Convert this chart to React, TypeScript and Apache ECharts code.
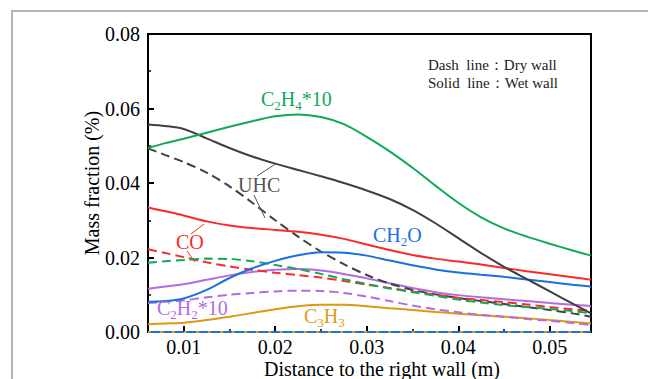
import React, { useEffect, useRef } from "react";
import * as echarts from "echarts";

const xs = [0.0061, 0.008, 0.01, 0.0125, 0.015, 0.0175, 0.02, 0.0225, 0.025, 0.0275, 0.03, 0.0325, 0.035, 0.0375, 0.04, 0.0425, 0.045, 0.0475, 0.05, 0.0525, 0.0545];

const c2h4Wet = [0.0494, 0.0507, 0.0519, 0.0535, 0.0551, 0.0566, 0.0579, 0.0584, 0.0577, 0.0558, 0.0524, 0.0485, 0.0441, 0.0393, 0.0347, 0.0308, 0.0278, 0.0256, 0.0237, 0.0219, 0.0205];
const uhcWet = [0.0557, 0.0553, 0.0545, 0.052, 0.0494, 0.0471, 0.0452, 0.0435, 0.0418, 0.04, 0.038, 0.0357, 0.0328, 0.0292, 0.0252, 0.0212, 0.0175, 0.0142, 0.0109, 0.0076, 0.005];
const uhcDry = [0.0493, 0.0475, 0.0456, 0.0428, 0.0391, 0.0347, 0.03, 0.0256, 0.0216, 0.0182, 0.0153, 0.013, 0.0113, 0.0101, 0.0091, 0.0083, 0.0075, 0.0067, 0.0059, 0.005, 0.0041];
const coWet = [0.0334, 0.0324, 0.0313, 0.0297, 0.0286, 0.0279, 0.0274, 0.0269, 0.0261, 0.025, 0.0235, 0.022, 0.0207, 0.0197, 0.0189, 0.0181, 0.0172, 0.0163, 0.0155, 0.0147, 0.014];
const coDry = [0.0222, 0.0212, 0.0201, 0.0187, 0.0176, 0.0167, 0.0159, 0.0153, 0.0146, 0.0137, 0.0127, 0.0118, 0.0109, 0.01, 0.0092, 0.0086, 0.008, 0.0074, 0.0067, 0.0061, 0.0057];
const ch2oWet = [0.0081, 0.0083, 0.009, 0.0113, 0.0145, 0.0171, 0.0191, 0.0206, 0.0214, 0.0213, 0.0205, 0.0192, 0.0179, 0.0168, 0.016, 0.0154, 0.0148, 0.0141, 0.0134, 0.0127, 0.0122];
const ch2oDry = [0, 0, 0, 0, 0, 0, 0, 0, 0, 0, 0, 0, 0, 0, 0, 0, 0, 0, 0, 0, 0];
const c2h2Wet = [0.0116, 0.0122, 0.0128, 0.014, 0.0152, 0.0161, 0.0167, 0.0169, 0.0165, 0.0156, 0.0144, 0.0131, 0.0118, 0.0107, 0.0099, 0.0093, 0.0088, 0.0083, 0.0078, 0.0073, 0.007];
const c2h2Dry = [0.0078, 0.0081, 0.0085, 0.0093, 0.01, 0.0105, 0.0109, 0.0111, 0.011, 0.0105, 0.0095, 0.0083, 0.0071, 0.0061, 0.0053, 0.0046, 0.0041, 0.0035, 0.003, 0.0024, 0.0019];
const c2h4Dry = [0.0186, 0.019, 0.0193, 0.0197, 0.0196, 0.019, 0.018, 0.0169, 0.0156, 0.0142, 0.0129, 0.0117, 0.0107, 0.0097, 0.0087, 0.0079, 0.0072, 0.0067, 0.0062, 0.0056, 0.005];
const c3h3Wet = [0.0021, 0.0023, 0.0025, 0.0032, 0.0041, 0.0051, 0.0061, 0.0069, 0.0073, 0.0073, 0.0069, 0.0064, 0.0059, 0.0054, 0.0049, 0.0045, 0.0041, 0.0037, 0.0032, 0.0027, 0.0023];
const c3h3Dry = [0, 0, 0, 0, 0, 0, 0, 0, 0, 0, 0, 0, 0, 0, 0, 0, 0, 0, 0, 0, 0];

const xMajorTicks = [0.01, 0.02, 0.03, 0.04, 0.05];
const xMinorTicks = [0.015, 0.025, 0.035, 0.045];

const SERIF = "Liberation Serif";
const GREEN = "#12a85a";
const GREY = "#404040";
const RED = "#fa2a2a";
const BLUE = "#1b6fe3";
const PURPLE = "#b46be2";
const ORANGE = "#dc9a12";

function mk(name: string, data: number[], color: string, dashed: boolean, dash?: number[]) {
  return {
    name,
    type: "line",
    data: xs.map((x, i) => [x, data[i]]),
    smooth: 0.3,
    showSymbol: false,
    symbol: "none",
    lineStyle: { color, width: 2, type: dashed ? dash || [9, 5] : "solid" },
  };
}

function label(x: number, y: number, parts: [string, boolean][], color: string) {
  const text = parts.map(([t, s]) => (s ? `{s|${t}}` : `{m|${t}}`)).join("");
  return {
    type: "text",
    x,
    y,
    z: 100,
    style: {
      text,
      textAlign: "left",
      textVerticalAlign: "middle",
      fill: color,
      font: `20px "${SERIF}"`,
      fontSize: 20,
      fontFamily: SERIF,
      rich: {
        m: { font: `20px "${SERIF}"`, fontSize: 20, fontFamily: SERIF, fill: color, lineHeight: 26 },
        s: { font: `13px "${SERIF}"`, fontSize: 13, fontFamily: SERIF, fill: color, verticalAlign: "bottom" },
      },
    },
  };
}

function lead(x1: number, y1: number, x2: number, y2: number, color: string) {
  return {
    type: "line",
    z: 100,
    shape: { x1, y1, x2, y2 },
    style: { stroke: color, lineWidth: 1 },
  };
}

export default function App() {
  const ref = useRef<HTMLDivElement>(null);
  useEffect(() => {
    const chart = echarts.init(ref.current!, null, { renderer: "svg" });
    const option: any = {
      animation: false,
      backgroundColor: "#fff",
      textStyle: { fontFamily: SERIF },
      grid: {
        left: 148,
        right: 57,
        top: 34,
        bottom: 47,
        show: true,
        borderColor: "#000",
        borderWidth: 2,
        backgroundColor: "transparent",
      },
      xAxis: [
        {
          type: "value",
          min: 0.0061,
          max: 0.0545,
          axisLine: { show: true, lineStyle: { color: "#000", width: 2 } },
          axisTick: { show: true, inside: true, length: 6, lineStyle: { color: "#000", width: 2 }, customValues: xMajorTicks },
          axisLabel: {
            customValues: xMajorTicks,
            formatter: (v: number) => v.toFixed(2),
            fontSize: 20,
            fontFamily: SERIF,
            color: "#000",
            margin: 5,
          },
          splitLine: { show: false },
        },
        {
          type: "value",
          min: 0.0061,
          max: 0.0545,
          position: "bottom",
          axisLine: { show: false },
          axisTick: { show: true, inside: true, length: 3, lineStyle: { color: "#000", width: 1.5 }, customValues: xMinorTicks },
          axisLabel: { show: false },
          splitLine: { show: false },
        },
      ],
      yAxis: {
        type: "value",
        min: 0,
        max: 0.08,
        interval: 0.02,
        axisLine: { show: true, lineStyle: { color: "#000", width: 2 } },
        axisTick: { show: true, inside: true, length: 6, lineStyle: { color: "#000", width: 2 } },
        minorTick: { show: true, splitNumber: 2, length: 3, lineStyle: { color: "#000", width: 1.5 } },
        axisLabel: {
          formatter: (v: number) => v.toFixed(2),
          fontSize: 20,
          fontFamily: SERIF,
          color: "#000",
          margin: 8,
        },
        splitLine: { show: false },
      },
      series: [
        mk("CH2O dry", ch2oDry, BLUE, false),
        mk("C3H3 dry", c3h3Dry, ORANGE, true, [3, 9]),
        mk("C3H3 wet", c3h3Wet, ORANGE, false),
        mk("C2H2*10 dry", c2h2Dry, PURPLE, true),
        mk("C2H2*10 wet", c2h2Wet, PURPLE, false),
        mk("UHC dry", uhcDry, GREY, true),
        mk("CO dry", coDry, RED, true),
        mk("C2H4*10 dry", c2h4Dry, GREEN, true),
        mk("CH2O wet", ch2oWet, BLUE, false),
        mk("CO wet", coWet, RED, false),
        mk("UHC wet", uhcWet, GREY, false),
        mk("C2H4*10 wet", c2h4Wet, GREEN, false),
      ],
      graphic: [
        {
          type: "rect",
          shape: { x: 12, y: 11, width: 720, height: 420 },
          style: { fill: "none", stroke: "#b4b4b4", lineWidth: 2 },
          silent: true,
        },
        {
          type: "text",
          x: 92,
          y: 183,
          rotation: Math.PI / 2,
          style: {
            text: "Mass fraction (%)",
            fontSize: 20,
            fontFamily: SERIF,
            fill: "#000",
            textAlign: "center",
            textVerticalAlign: "middle",
          },
        },
        {
          type: "text",
          x: 382,
          y: 369,
          style: {
            text: "Distance to the right wall (m)",
            fontSize: 20,
            fontFamily: SERIF,
            fill: "#000",
            textAlign: "center",
            textVerticalAlign: "middle",
          },
        },
        {
          type: "text",
          x: 428,
          y: 65,
          style: { text: "Dash  line：Dry wall", fontSize: 15, fontFamily: SERIF, fill: "#222", textAlign: "left", textVerticalAlign: "middle" },
        },
        {
          type: "text",
          x: 428,
          y: 83,
          style: { text: "Solid  line：Wet wall", fontSize: 15, fontFamily: SERIF, fill: "#222", textAlign: "left", textVerticalAlign: "middle" },
        },
        label(261, 99, [["C", false], ["2", true], ["H", false], ["4", true], ["*10", false]], GREEN),
        label(238, 185, [["UHC", false]], "#555"),
        label(373, 235, [["CH", false], ["2", true], ["O", false]], BLUE),
        label(176, 242, [["CO", false]], RED),
        label(157, 308, [["C", false], ["2", true], ["H", false], ["2", true], ["*10", false]], PURPLE),
        label(304, 316, [["C", false], ["3", true], ["H", false], ["3", true]], ORANGE),
        lead(277, 163, 257, 176, "#555"),
        lead(254, 195, 265, 218, "#555"),
        lead(204, 224, 191, 234, RED),
        lead(187, 251, 195, 262, RED),
      ],
    };
    chart.setOption(option);
    return () => chart.dispose();
  }, []);
  return <div ref={ref} style={{ position: "absolute", left: 0, top: 0, width: 648, height: 379 }} />;
}
